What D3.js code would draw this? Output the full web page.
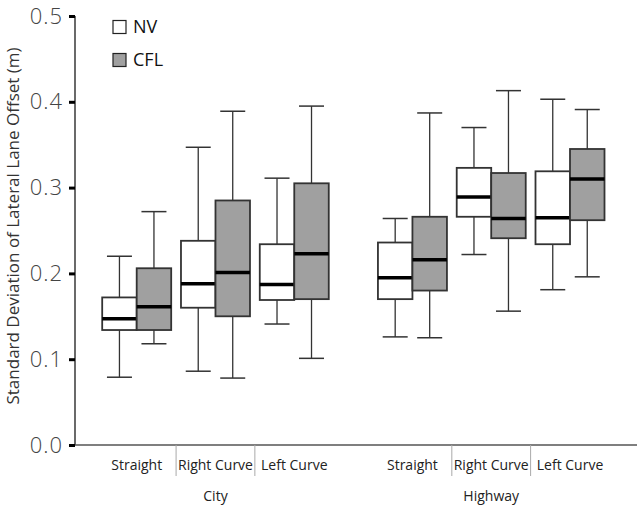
<!DOCTYPE html>
<html><head><meta charset="utf-8">
<script src="https://cdn.jsdelivr.net/npm/d3@7"></script>
<style>
html,body{margin:0;padding:0;background:#fff;}
text{font-family:"Open Sans","Noto Sans",sans-serif;}
</style></head>
<body>
<svg id="chart" width="644" height="512"></svg>
<script>
// ---- data ----
const groups = ["City", "Highway"];
const categories = ["Straight", "Right Curve", "Left Curve"];
const series = ["NV", "CFL"];
const yTicks = [0.0, 0.1, 0.2, 0.3, 0.4, 0.5];
// each: [min, q1, median, q3, max], order: City S, R, L, Highway S, R, L
const nvStats = [
  [0.079, 0.134, 0.147, 0.172, 0.220],
  [0.086, 0.160, 0.188, 0.238, 0.347],
  [0.141, 0.169, 0.187, 0.234, 0.311],
  [0.126, 0.170, 0.195, 0.236, 0.264],
  [0.222, 0.266, 0.289, 0.323, 0.370],
  [0.181, 0.234, 0.265, 0.319, 0.403]
];
const cflStats = [
  [0.118, 0.134, 0.161, 0.206, 0.272],
  [0.078, 0.150, 0.201, 0.285, 0.389],
  [0.101, 0.170, 0.223, 0.305, 0.395],
  [0.125, 0.180, 0.216, 0.266, 0.387],
  [0.156, 0.241, 0.264, 0.317, 0.413],
  [0.196, 0.262, 0.310, 0.345, 0.391]
];
const fills = ["#ffffff", "#a0a0a0"];

// ---- layout ----
const svg = d3.select("#chart");
const x0 = 75, yBase = 445;
const y = d3.scaleLinear().domain([0, 0.5]).range([445, 16]);
// slot positions: groups separated by an extra half slot
const pos = d3.scaleLinear().domain([0, 5.5]).range([136.7, 570]);
const boxW = 34.5, capW = 25;

function slot(g, c) { return g * 3.5 + c; }

// y-axis title
svg.append("text")
  .attr("transform", "translate(18.5,226) rotate(-90)")
  .attr("text-anchor", "middle")
  .attr("font-size", 17).attr("fill", "#333")
  .text("Standard Deviation of Lateral Lane Offset (m)");

// y axis
const yAxis = d3.axisLeft(y).tickValues(yTicks).tickFormat(d3.format(".1f")).tickSize(6).tickPadding(6);
const ga = svg.append("g").attr("transform", `translate(${x0},0)`).call(yAxis);
ga.select(".domain").attr("stroke", "#444").attr("stroke-width", 1.6).attr("d", `M0,${y(0.5)}V${yBase}`);
ga.selectAll(".tick line").attr("stroke", "#000").attr("stroke-width", 3);
ga.selectAll(".tick text").attr("font-size", 22).attr("fill", "#444").attr("font-weight", 300)
  .attr("letter-spacing", 1)
  .attr("font-family", "'Open Sans','Noto Sans',sans-serif");

// x axis line
svg.append("line").attr("x1", x0).attr("x2", 637).attr("y1", yBase).attr("y2", yBase)
  .attr("stroke", "#555").attr("stroke-width", 1.6);

// separators and labels
groups.forEach((g, gi) => {
  categories.forEach((c, ci) => {
    const cx = pos(slot(gi, ci));
    svg.append("text").attr("x", cx).attr("y", 470).attr("text-anchor", "middle")
      .attr("font-size", 14).attr("fill", "#222").text(c);
    if (ci > 0) {
      const sx = (pos(slot(gi, ci)) + pos(slot(gi, ci - 1))) / 2;
      svg.append("line").attr("x1", sx).attr("x2", sx).attr("y1", yBase).attr("y2", 476)
        .attr("stroke", "#aaa").attr("stroke-width", 1);
    }
  });
  svg.append("text").attr("x", pos(slot(gi, 1))).attr("y", 501).attr("text-anchor", "middle")
    .attr("font-size", 14).attr("fill", "#222").text(g);
});

// boxes
const allStats = [nvStats, cflStats];
allStats.forEach((stats, si) => {
  stats.forEach((s, i) => {
    const gi = Math.floor(i / 3), ci = i % 3;
    const cx = pos(slot(gi, ci)) + (si === 0 ? -boxW / 2 : boxW / 2);
    const [mn, q1, md, q3, mx] = s;
    const g = svg.append("g");
    g.append("line").attr("x1", cx).attr("x2", cx).attr("y1", y(mx)).attr("y2", y(q3))
      .attr("stroke", "#333").attr("stroke-width", 1.3);
    g.append("line").attr("x1", cx).attr("x2", cx).attr("y1", y(q1)).attr("y2", y(mn))
      .attr("stroke", "#333").attr("stroke-width", 1.3);
    g.append("line").attr("x1", cx - capW / 2).attr("x2", cx + capW / 2).attr("y1", y(mx)).attr("y2", y(mx))
      .attr("stroke", "#333").attr("stroke-width", 1.5);
    g.append("line").attr("x1", cx - capW / 2).attr("x2", cx + capW / 2).attr("y1", y(mn)).attr("y2", y(mn))
      .attr("stroke", "#333").attr("stroke-width", 1.5);
    g.append("rect").attr("x", cx - boxW / 2).attr("width", boxW)
      .attr("y", y(q3)).attr("height", y(q1) - y(q3))
      .attr("fill", fills[si]).attr("stroke", "#333").attr("stroke-width", 1.8);
    g.append("line").attr("x1", cx - boxW / 2).attr("x2", cx + boxW / 2).attr("y1", y(md)).attr("y2", y(md))
      .attr("stroke", "#000").attr("stroke-width", 3.5);
  });
});

// legend
series.forEach((s, i) => {
  const ly = 27 + i * 33;
  svg.append("rect").attr("x", 113).attr("y", ly - 6.5).attr("width", 13).attr("height", 13)
    .attr("fill", fills[i]).attr("stroke", "#222").attr("stroke-width", 1.2);
  svg.append("text").attr("x", 133).attr("y", ly).attr("dy", "0.35em")
    .attr("font-size", 18).attr("fill", "#111").text(s);
});
</script>
</body></html>
